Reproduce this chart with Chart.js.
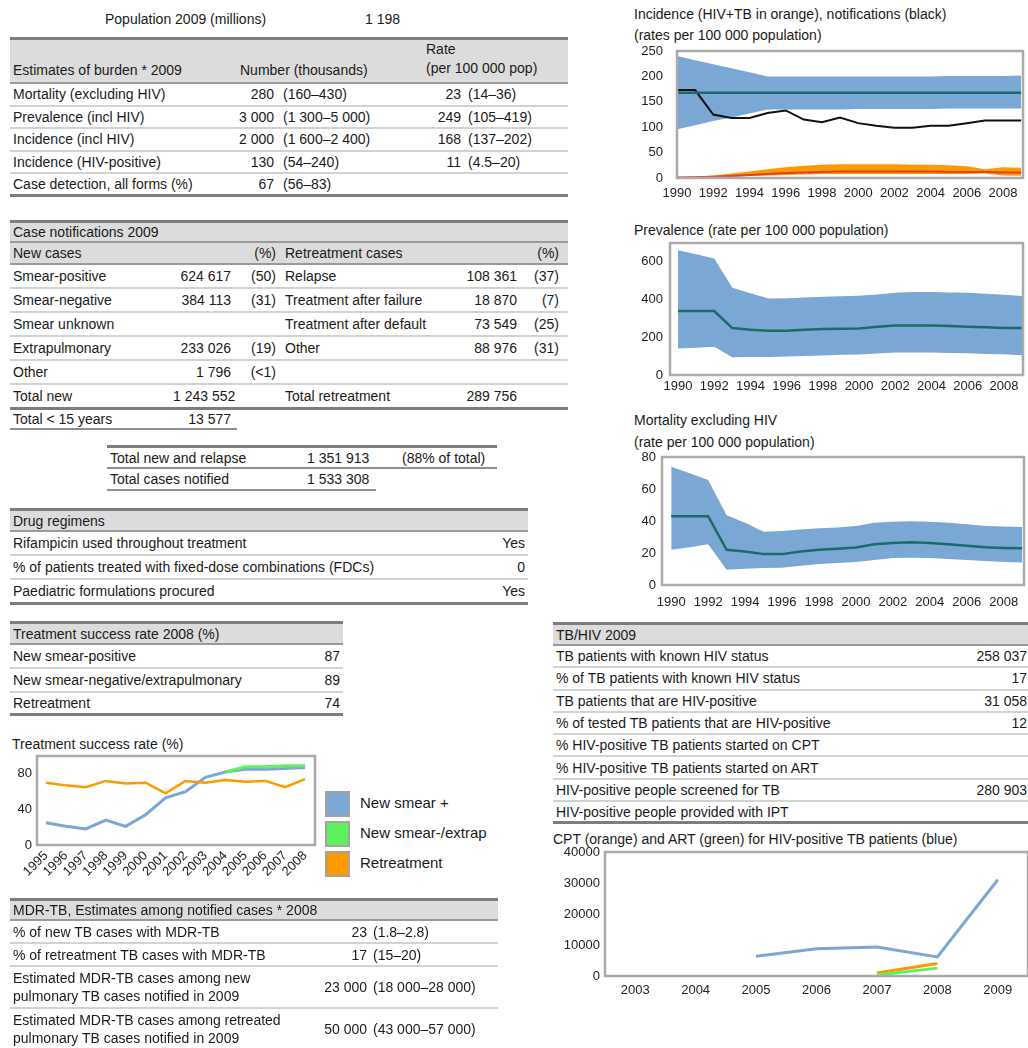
<!DOCTYPE html>
<html>
<head>
<meta charset="utf-8">
<title>TB profile 2009</title>
<script src="https://cdn.jsdelivr.net/npm/chart.js@4.4.1/dist/chart.umd.min.js"></script>
<style>
body{margin:0;background:#fff;font-family:"Liberation Sans",Arial,sans-serif;font-size:14px;color:#1a1a1a;overflow:hidden;}
#page{position:relative;width:1028px;height:1048px;overflow:hidden;}
.txt{position:absolute;white-space:nowrap;line-height:16px;}
table.t{position:absolute;border-collapse:collapse;table-layout:fixed;}
table.t td{padding:0 3px;white-space:nowrap;border-bottom:2px solid #d2d2d2;line-height:16px;}
table.t tr.hd td{background:#dcdcdc;border-top:3px solid #7d7d7d;border-bottom:2px solid #9a9a9a;}
table.t tr.sub td{background:#dcdcdc;border-bottom:2px solid #9a9a9a;}
table.t tr.end td{border-bottom:3px solid #7d7d7d;}
table.t td.r{text-align:right;}
table.t td.nb{border-bottom:none;}
.box{position:absolute;}
.lg{position:absolute;left:325px;width:21px;height:22px;border:2px solid #a3a3a3;}
.lgt{position:absolute;left:360px;font-size:15px;line-height:18px;white-space:nowrap;}
</style>
</head>
<body>
<div id="page">

<div class="txt" style="left:105px;top:11px">Population 2009 (millions)</div>
<div class="txt" style="left:365px;top:11px">1 198</div>

<!-- estimates of burden -->
<table class="t" style="left:10px;top:37px;width:558px">
<colgroup><col style="width:215px"><col style="width:52px"><col style="width:143px"><col style="width:44px"><col style="width:104px"></colgroup>
<tr class="hd"><td style="height:38px;vertical-align:bottom;padding-bottom:4px">Estimates of burden * 2009</td><td colspan="2" style="vertical-align:bottom;padding-left:15px;padding-bottom:4px">Number (thousands)</td><td colspan="2" style="vertical-align:bottom;padding-left:6px;padding-bottom:4px;line-height:19px">Rate<br>(per 100 000 pop)</td></tr>
<tr><td style="height:20.5px">Mortality (excluding HIV)</td><td class="r">280</td><td style="padding-left:6px">(160–430)</td><td class="r">23</td><td style="padding-left:4px">(14–36)</td></tr>
<tr><td style="height:20.5px">Prevalence (incl HIV)</td><td class="r">3 000</td><td style="padding-left:6px">(1 300–5 000)</td><td class="r">249</td><td style="padding-left:4px">(105–419)</td></tr>
<tr><td style="height:20.5px">Incidence (incl HIV)</td><td class="r">2 000</td><td style="padding-left:6px">(1 600–2 400)</td><td class="r">168</td><td style="padding-left:4px">(137–202)</td></tr>
<tr><td style="height:20.5px">Incidence (HIV-positive)</td><td class="r">130</td><td style="padding-left:6px">(54–240)</td><td class="r">11</td><td style="padding-left:4px">(4.5–20)</td></tr>
<tr class="end"><td style="height:20px">Case detection, all forms (%)</td><td class="r">67</td><td style="padding-left:6px">(56–83)</td><td></td><td></td></tr>
</table>

<!-- case notifications -->
<table class="t" style="left:10px;top:220px;width:558px">
<colgroup><col style="width:160px"><col style="width:64px"><col style="width:45px"><col style="width:181px"><col style="width:60px"><col style="width:42px"><col style="width:6px"></colgroup>
<tr class="hd"><td colspan="7" style="height:18px">Case notifications 2009</td></tr>
<tr class="sub"><td colspan="2" style="height:20px">New cases</td><td class="r">(%)</td><td style="padding-left:6px">Retreatment cases</td><td></td><td class="r">(%)</td><td></td></tr>
<tr><td style="height:22px">Smear-positive</td><td class="r">624 617</td><td class="r">(50)</td><td style="padding-left:6px">Relapse</td><td class="r">108 361</td><td class="r">(37)</td><td></td></tr>
<tr><td style="height:22px">Smear-negative</td><td class="r">384 113</td><td class="r">(31)</td><td style="padding-left:6px">Treatment after failure</td><td class="r">18 870</td><td class="r">(7)</td><td></td></tr>
<tr><td style="height:22px">Smear unknown</td><td class="r"></td><td class="r"></td><td style="padding-left:6px">Treatment after default</td><td class="r">73 549</td><td class="r">(25)</td><td></td></tr>
<tr><td style="height:22px">Extrapulmonary</td><td class="r">233 026</td><td class="r">(19)</td><td style="padding-left:6px">Other</td><td class="r">88 976</td><td class="r">(31)</td><td></td></tr>
<tr><td style="height:22px">Other</td><td class="r">1 796</td><td class="r">(&lt;1)</td><td></td><td></td><td></td><td></td></tr>
<tr class="end"><td style="height:22px">Total new</td><td class="r">1 243 552</td><td></td><td style="padding-left:6px">Total retreatment</td><td class="r">289 756</td><td></td><td></td></tr>
</table>
<table class="t" style="left:10px;top:410px;width:227px">
<colgroup><col style="width:160px"><col style="width:64px"><col style="width:3px"></colgroup>
<tr><td style="height:18px;border-bottom:2px solid #8f8f8f">Total &lt; 15 years</td><td class="r" style="border-bottom:2px solid #8f8f8f">13 577</td><td style="border-bottom:2px solid #8f8f8f"></td></tr>
</table>

<!-- totals -->
<table class="t" style="left:107px;top:445px;width:390px">
<colgroup><col style="width:193px"><col style="width:76px"><col style="width:121px"></colgroup>
<tr><td style="height:19px;border-top:3px solid #7d7d7d;border-bottom:2px solid #8f8f8f">Total new and relapse</td><td style="padding-left:7px;border-top:3px solid #7d7d7d;border-bottom:2px solid #8f8f8f">1 351 913</td><td style="padding-left:26px;border-top:3px solid #7d7d7d;border-bottom:2px solid #8f8f8f">(88% of total)</td></tr>
<tr><td style="height:20px;border-bottom:2px solid #8f8f8f">Total cases notified</td><td style="padding-left:7px;border-bottom:2px solid #8f8f8f">1 533 308</td><td class="nb"></td></tr>
</table>

<!-- drug regimens -->
<table class="t" style="left:10px;top:508px;width:518px">
<colgroup><col style="width:468px"><col style="width:50px"></colgroup>
<tr class="hd"><td colspan="2" style="height:19px">Drug regimens</td></tr>
<tr><td style="height:22px">Rifampicin used throughout treatment</td><td class="r">Yes</td></tr>
<tr><td style="height:22px">% of patients treated with fixed-dose combinations (FDCs)</td><td class="r">0</td></tr>
<tr class="end"><td style="height:22px">Paediatric formulations procured</td><td class="r">Yes</td></tr>
</table>

<!-- treatment success 2008 -->
<table class="t" style="left:10px;top:621px;width:333px">
<colgroup><col style="width:293px"><col style="width:40px"></colgroup>
<tr class="hd"><td colspan="2" style="height:19px">Treatment success rate 2008 (%)</td></tr>
<tr><td style="height:22px">New smear-positive</td><td class="r">87</td></tr>
<tr><td style="height:22px">New smear-negative/extrapulmonary</td><td class="r">89</td></tr>
<tr class="end"><td style="height:20px">Retreatment</td><td class="r">74</td></tr>
</table>

<div class="txt" style="left:12px;top:736px">Treatment success rate (%)</div>
<div class="box" style="left:0;top:750px"><canvas id="tsrChart" width="320" height="150"></canvas></div>
<div class="lg" style="top:791px;background:#7aa7d3"></div>
<div class="lg" style="top:821px;background:#5ff05f"></div>
<div class="lg" style="top:851px;background:#ff9900"></div>

<!-- MDR-TB -->
<table class="t" style="left:10px;top:898px;width:488px">
<colgroup><col style="width:300px"><col style="width:60px"><col style="width:128px"></colgroup>
<tr class="hd"><td colspan="3" style="height:18px">MDR-TB, Estimates among notified cases * 2008</td></tr>
<tr><td style="height:21px">% of new TB cases with MDR-TB</td><td class="r">23</td><td>(1.8–2.8)</td></tr>
<tr><td style="height:21px">% of retreatment TB cases with MDR-TB</td><td class="r">17</td><td>(15–20)</td></tr>
<tr><td style="height:40px;line-height:18px">Estimated MDR-TB cases among new<br>pulmonary TB cases notified in 2009</td><td class="r">23 000</td><td>(18 000–28 000)</td></tr>
<tr><td class="nb" style="height:40px;line-height:18px">Estimated MDR-TB cases among retreated<br>pulmonary TB cases notified in 2009</td><td class="r nb">50 000</td><td class="nb">(43 000–57 000)</td></tr>
</table>

<!-- right column charts -->
<div class="txt" style="left:634px;top:6px">Incidence (HIV+TB in orange), notifications (black)</div>
<div class="txt" style="left:634px;top:27px">(rates per 100 000 population)</div>
<div class="box" style="left:630px;top:40px"><canvas id="incChart" width="398" height="165"></canvas></div>

<div class="txt" style="left:634px;top:222px">Prevalence (rate per 100 000 population)</div>
<div class="box" style="left:630px;top:233px"><canvas id="prevChart" width="398" height="165"></canvas></div>

<div class="txt" style="left:634px;top:412px">Mortality excluding HIV</div>
<div class="txt" style="left:634px;top:434px">(rate per 100 000 population)</div>
<div class="box" style="left:625px;top:447px"><canvas id="mortChart" width="403" height="170"></canvas></div>

<!-- TB/HIV -->
<table class="t" style="left:553px;top:622px;width:475px">
<colgroup><col style="width:395px"><col style="width:80px"></colgroup>
<tr class="hd"><td colspan="2" style="height:19px">TB/HIV 2009</td></tr>
<tr><td style="height:20.3px">TB patients with known HIV status</td><td class="r" style="padding-right:1px">258 037</td></tr>
<tr><td style="height:20.3px">% of TB patients with known HIV status</td><td class="r" style="padding-right:1px">17</td></tr>
<tr><td style="height:20.3px">TB patients that are HIV-positive</td><td class="r" style="padding-right:1px">31 058</td></tr>
<tr><td style="height:20.3px">% of tested TB patients that are HIV-positive</td><td class="r" style="padding-right:1px">12</td></tr>
<tr><td style="height:20.3px">% HIV-positive TB patients started on CPT</td><td class="r"></td></tr>
<tr><td style="height:20.3px">% HIV-positive TB patients started on ART</td><td class="r"></td></tr>
<tr><td style="height:20.3px">HIV-positive people screened for TB</td><td class="r" style="padding-right:1px">280 903</td></tr>
<tr class="end"><td style="height:19px">HIV-positive people provided with IPT</td><td class="r"></td></tr>
</table>

<div class="txt" style="left:553px;top:831px">CPT (orange) and ART (green) for HIV-positive TB patients (blue)</div>
<div class="box" style="left:545px;top:842px"><canvas id="hivChart" width="483" height="160"></canvas></div>

</div>

<script>
// years and ticks
const trendYears = [1990, 1991, 1992, 1993, 1994, 1995, 1996, 1997, 1998, 1999, 2000, 2001, 2002, 2003, 2004, 2005, 2006, 2007, 2008, 2009];
const trendTicks = [1990, 1992, 1994, 1996, 1998, 2000, 2002, 2004, 2006, 2008];

// incidence (rates per 100 000)
const incBest = [168, 168, 168, 168, 168, 168, 168, 168, 168, 168, 168, 168, 168, 168, 168, 168, 168, 168, 168, 168];
const incLow = [96, 104, 112, 119, 127, 135, 135, 135, 135, 135, 136, 136, 136, 136, 136, 137, 137, 137, 137, 137];
const incHigh = [240, 232, 224, 216, 208, 200, 200, 200, 200, 200, 200, 200, 200, 200, 200, 201, 201, 201, 201, 202];
const notifRate = [173, 173, 125, 118, 118, 128, 133, 115, 110, 119, 108, 103, 99, 99, 103, 103, 108, 113, 113, 113];
const hivIncBest = [1, 1.5, 2.5, 4, 6, 8, 10, 11, 12, 13, 13, 13, 13, 13, 13, 12, 12, 12, 11, 11];
const hivIncLow = [0.5, 1, 1.5, 2.5, 4, 5, 6, 7, 8, 8, 8, 8, 8, 8, 8, 8, 8, 9, 5, 4.5];
const hivIncHigh = [2, 3, 5, 9, 13, 17, 21, 24, 26, 27, 27, 27, 27, 26, 26, 25, 23, 17, 21, 20];
const incTicks = [0, 50, 100, 150, 200, 250];

// prevalence
const prevBest = [339, 339, 339, 249, 240, 235, 235, 240, 244, 245, 247, 256, 262, 262, 262, 260, 256, 253, 249, 249];
const prevLow = [141, 145, 150, 94, 96, 96, 98, 101, 103, 107, 109, 114, 119, 119, 119, 117, 116, 112, 110, 105];
const prevHigh = [661, 640, 618, 463, 433, 406, 407, 411, 415, 418, 420, 427, 436, 440, 440, 438, 436, 431, 425, 419];
const prevTicks = [0, 200, 400, 600];

// mortality
const mortBest = [43, 43, 43, 22, 21, 19.3, 19.3, 21, 22, 22.6, 23.4, 25.5, 26.3, 26.7, 26.3, 25.5, 24.6, 23.6, 23.2, 23];
const mortLow = [22, 23.6, 25.5, 9.6, 10.2, 10.6, 10.8, 12.1, 13.1, 13.7, 14.3, 15.7, 16.8, 17, 16.8, 16.2, 15.6, 15, 14.3, 14];
const mortHigh = [73.9, 69.8, 65.6, 43.6, 38.9, 33.3, 33.7, 34.7, 35.4, 36, 36.8, 38.9, 39.5, 39.9, 39.5, 38.9, 38, 36.8, 36.6, 36.2];
const mortTicks = [0, 20, 40, 60, 80];

// treatment success
const tsrYears = [1995, 1996, 1997, 1998, 1999, 2000, 2001, 2002, 2003, 2004, 2005, 2006, 2007, 2008];
const tsrNewPos = [25, 21, 18, 28, 21, 34, 53, 60, 76, 82, 85, 85, 86, 87];
const tsrNewNeg = [null, null, null, null, null, null, null, null, null, 82, 88, 88, 89, 89];
const tsrRetreat = [70, 67, 65, 72, 69, 70, 58, 72, 70, 73, 71, 72, 65, 74];
const tsrNames = ['New smear +', 'New smear-/extrap', 'Retreatment'];
const tsrTicks = [0, 40, 80];

// CPT / ART
const hivYears = ['2003', '2004', '2005', '2006', '2007', '2008', '2009'];
const hivPosTb = [null, null, 6360, 8800, 9330, 6140, 31058];
const cptVals = [null, null, null, null, 970, 4040, null];
const artVals = [null, null, null, null, 320, 2540, null];
const hivTicks = [0, 10000, 20000, 30000, 40000];

const FONT = '"Liberation Sans", Arial, sans-serif';
const BLUE = '#7aa7d3';
const ORANGE = '#ff9900';
const GREEN = '#5ff05f';

// grey frame round the plot area
const plotBox = {
    id: 'plotBox',
    afterDraw(chart) {
        const a = chart.chartArea;
        const ctx = chart.ctx;
        ctx.save();
        ctx.strokeStyle = '#ababab';
        ctx.lineWidth = 2.5;
        ctx.strokeRect(a.left, a.top, a.right - a.left, a.bottom - a.top);
        ctx.restore();
    }
};

function pts(xs, ys) {
    return xs.map((x, i) => ({ x: x, y: ys[i] }));
}

function lineSet(label, data, color, width) {
    return { label: label, data: data, borderColor: color, borderWidth: width, pointRadius: 0, fill: false, tension: 0 };
}

function bandTop(data, color) {
    return { data: data, borderWidth: 0, borderColor: 'rgba(0,0,0,0)', backgroundColor: color, pointRadius: 0, fill: '+1', tension: 0 };
}

function bandLow(data) {
    return { data: data, borderWidth: 0, borderColor: 'rgba(0,0,0,0)', pointRadius: 0, fill: false, tension: 0 };
}

// fixed axis sizes, no extra room for the end labels
function xLinear(min, max, ticks, height, pad, rot) {
    return {
        type: 'linear', min: min, max: max,
        grid: { display: false, drawTicks: false }, border: { display: false },
        afterBuildTicks: s => { s.ticks = ticks.map(v => ({ value: v })); },
        afterFit: s => { s.height = height; s.paddingLeft = 0; s.paddingRight = 0; },
        ticks: {
            autoSkip: false, padding: pad, minRotation: rot || 0, maxRotation: rot || 0,
            color: '#222', font: { family: FONT, size: 13 },
            callback: v => String(v)
        }
    };
}

function yLinear(max, ticks, width, pad) {
    return {
        type: 'linear', min: 0, max: max,
        grid: { display: false, drawTicks: false }, border: { display: false },
        afterBuildTicks: s => { s.ticks = ticks.map(v => ({ value: v })); },
        afterFit: s => { s.width = width; s.paddingTop = 0; s.paddingBottom = 0; },
        ticks: { padding: pad, color: '#222', font: { family: FONT, size: 13 }, callback: v => String(v) }
    };
}

function makeChart(id, data, xs, ys, padTop, padRight) {
    return new Chart(document.getElementById(id), {
        type: 'line',
        data: data,
        options: {
            responsive: false,
            animation: false,
            layout: { padding: { top: padTop, right: padRight, left: 0, bottom: 0 } },
            plugins: { legend: { display: false }, tooltip: { enabled: false } },
            scales: { x: xs, y: ys }
        },
        plugins: [plotBox]
    });
}

// incidence
makeChart('incChart', {
    datasets: [
        lineSet('Incidence', pts(trendYears, incBest), '#1c6b6b', 2.5),
        lineSet('Notifications', pts(trendYears, notifRate), '#111', 2),
        lineSet('HIV+TB', pts(trendYears, hivIncBest), '#e0402a', 2),
        bandTop(pts(trendYears, hivIncHigh), ORANGE),
        bandLow(pts(trendYears, hivIncLow)),
        bandTop(pts(trendYears, incHigh), BLUE),
        bandLow(pts(trendYears, incLow))
    ]
}, xLinear(1990, 2009.1, trendTicks, 27, 8), yLinear(250, incTicks, 47, 14), 11, 5);

// prevalence
makeChart('prevChart', {
    datasets: [
        lineSet('Prevalence', pts(trendYears, prevBest), '#1c6b6b', 2.5),
        bandTop(pts(trendYears, prevHigh), BLUE),
        bandLow(pts(trendYears, prevLow))
    ]
}, xLinear(1989.56, 2009.05, trendTicks, 23, 4), yLinear(700, prevTicks, 40, 7), 10, 5);

// mortality
makeChart('mortChart', {
    datasets: [
        lineSet('Mortality', pts(trendYears, mortBest), '#1c6b6b', 2.5),
        bandTop(pts(trendYears, mortHigh), BLUE),
        bandLow(pts(trendYears, mortLow))
    ]
}, xLinear(1989.5, 2009.1, trendTicks, 32, 10), yLinear(80, mortTicks, 37, 6), 10, 4);

// treatment success rate
makeChart('tsrChart', {
    datasets: [
        lineSet(tsrNames[1], pts(tsrYears, tsrNewNeg), GREEN, 3),
        lineSet(tsrNames[2], pts(tsrYears, tsrRetreat), ORANGE, 2.5),
        lineSet(tsrNames[0], pts(tsrYears, tsrNewPos), BLUE, 3)
    ]
}, xLinear(1994.55, 2008.5, tsrYears, 55, 3, 45), yLinear(100, tsrTicks, 37, 5), 6, 5);

// legend text for treatment success chart
const legendTops = [794, 824, 854];
tsrNames.forEach((name, i) => {
    const d = document.createElement('div');
    d.className = 'lgt';
    d.style.top = legendTops[i] + 'px';
    d.textContent = name;
    document.getElementById('page').appendChild(d);
});

// CPT and ART
makeChart('hivChart', {
    labels: hivYears,
    datasets: [
        lineSet('ART', artVals, GREEN, 3),
        lineSet('CPT', cptVals, ORANGE, 3),
        lineSet('HIV-positive TB', hivPosTb, BLUE, 3)
    ]
}, {
    type: 'category', offset: true,
    grid: { display: false, drawTicks: false }, border: { display: false },
    afterFit: s => { s.height = 26; s.paddingLeft = 0; s.paddingRight = 0; },
    ticks: { padding: 7, color: '#222', font: { family: FONT, size: 13 } }
}, yLinear(40000, hivTicks, 60, 5), 10, 0);
</script>
</body>
</html>
